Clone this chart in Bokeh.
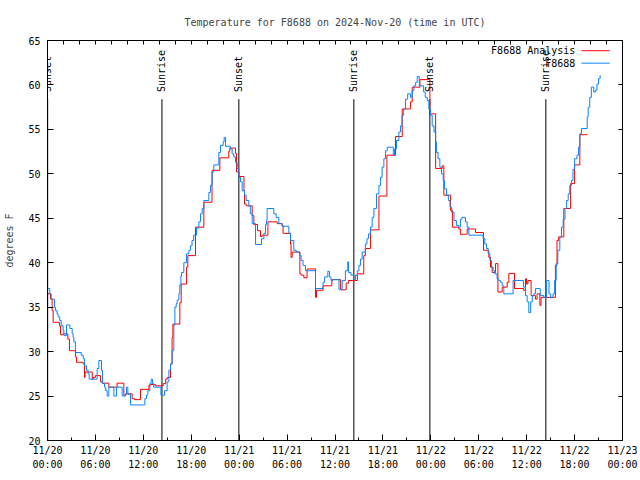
import math
from bokeh.plotting import figure
from bokeh.models import (Range1d, LinearAxis, FixedTicker, Label)
from bokeh.embed import file_html
from bokeh.resources import INLINE

# ---- data (hours after 2024-11-20 00:00 UTC, degrees F) ----
obs_hours = [0.0, 0.29, 0.46, 0.88, 1.0, 1.21, 1.34, 1.54, 1.71, 1.96, 2.05, 2.38, 2.8, 3.09, 3.21, 3.3,
             3.5, 4.22, 4.47, 4.63, 4.88, 5.09, 5.22, 6.22, 6.43, 6.76, 6.89, 7.14, 7.3, 7.47, 7.68, 8.31,
             8.64, 9.35, 9.77, 9.89, 10.06, 10.39, 12.19, 12.4, 12.56, 12.81, 12.98, 13.15, 13.3, 14.2,
             14.65, 14.98, 15.2, 15.4, 15.6, 15.82, 15.95, 16.11, 16.24, 16.45, 16.57, 16.7, 16.78, 17.07,
             17.4, 17.7, 17.9, 18.1, 18.3, 18.66, 18.95, 19.16, 19.37, 19.58, 20.2, 20.4, 20.62, 20.83,
             21.45, 21.66, 22.0, 22.12, 22.29, 22.9, 23.12, 23.33, 23.54, 23.75, 23.96, 24.17, 24.38,
             24.67, 24.88, 25.2, 25.4, 25.63, 26.05, 26.8, 27.09, 27.3, 27.42, 27.5, 28.34, 28.63, 28.97,
             29.38, 30.22, 30.43, 30.84, 31.14, 31.6, 31.76, 32.0, 32.3, 33.56, 34.5, 34.7, 35.1, 35.3,
             35.5, 35.73, 36.5, 36.9, 37.3, 37.6, 37.7, 38.0, 38.36, 38.57, 38.8, 39.0, 39.2, 39.4, 39.8,
             40.0, 40.2, 40.45, 40.66, 40.87, 41.2, 41.5, 41.7, 41.9, 42.12, 42.33, 42.54, 43.3, 43.46,
             43.7, 44.0, 44.2, 44.4, 44.6, 44.83, 45.1, 45.46, 45.67, 45.88, 46.1, 46.3, 46.55, 47.1,
             47.3, 47.55, 47.75, 47.96, 48.17, 48.4, 48.6, 48.7, 48.9, 49.13, 49.34, 49.55, 49.72, 49.97,
             50.2, 50.4, 50.6, 50.9, 51.2, 51.5, 51.7, 51.9, 52.34, 52.55, 52.76, 54.55, 54.76, 54.97,
             55.18, 55.4, 55.6, 55.8, 56.0, 56.3, 56.5, 56.7, 56.93, 57.14, 58.3, 59.6, 59.85, 60.06,
             60.27, 60.5, 60.7, 60.9, 61.1, 61.7, 62.15, 62.5, 62.8, 63.0, 63.3, 63.5, 63.7, 63.9, 64.15,
             64.36, 64.57, 64.8, 65.0, 65.2, 65.4, 65.6, 65.8, 66.0, 66.3, 66.5, 66.66, 66.87, 67.58,
             67.7, 67.9, 68.1, 68.4, 68.6, 68.8, 69.0, 69.2]
obs_temps = [37.1, 36.5, 35.9, 35.0, 34.6, 34.2, 33.9, 33.5, 32.9, 32.4, 31.8, 33.0, 32.6, 32.0, 31.6, 31.1,
             29.9, 29.6, 29.2, 28.4, 27.9, 27.5, 26.9, 28.1, 29.0, 27.9, 26.4, 26.0, 25.6, 25.0, 26.0, 25.0,
             26.0, 25.0, 25.2, 26.0, 25.2, 24.0, 24.7, 25.1, 25.6, 26.4, 26.9, 26.4, 26.0, 25.1,
             25.6, 26.6, 27.9, 28.6, 30.1, 33.0, 35.0, 35.4, 35.8, 36.5, 37.5, 38.5, 38.9, 40.0,
             41.0, 41.4, 41.9, 42.5, 43.1, 43.9, 44.6, 45.5, 46.1, 47.0, 47.9, 48.7, 50.2, 51.0,
             52.4, 53.2, 53.6, 54.1, 53.1, 52.8, 52.25, 51.9, 51.3, 50.6, 49.6, 49.1, 48.1,
             47.6, 47.0, 46.4, 45.5, 44.4, 42.05, 42.7, 43.3, 44.3, 44.75, 46.1, 45.5, 45.1, 44.4,
             44.1, 43.3, 42.5, 41.4, 41.2, 40.8, 40.25, 39.7, 39.1, 37.1, 37.8, 38.4, 39.05, 38.4,
             38.0, 38.1, 37.0, 38.0, 39.1, 40.1, 38.9, 38.6, 38.1, 38.6, 39.1, 39.7, 40.4, 41.2, 42.1,
             42.7, 43.25, 44.0, 45.1, 46.1, 47.75, 48.7, 49.6, 50.75, 51.7, 52.6, 53.0, 52.1, 52.8,
             53.75, 54.7, 55.4, 56.6, 57.3, 58.4, 59.0, 58.6, 59.4, 59.9, 60.3, 60.95, 59.9, 59.2,
             58.6, 58.25, 57.3, 56.6, 55.4, 54.7, 53.6, 52.4, 51.7, 50.75, 50.0, 49.25, 48.3, 47.6,
             47.0, 46.25, 45.7, 44.75, 44.2, 44.0, 44.9, 45.1, 44.6, 44.0, 43.1, 42.7, 42.1, 41.6,
             41.0, 40.25, 39.5, 39.1, 38.75, 38.2, 38.0, 37.8, 37.4, 36.5, 38.0, 37.25, 36.3, 35.6,
             34.4, 35.6, 36.3, 36.5, 37.1, 36.3, 36.1, 38.0, 36.5, 36.1, 36.5, 38.0, 39.9, 41.4, 42.9,
             44.0, 44.9, 46.1, 47.0, 47.75, 48.7, 49.25, 50.5, 51.7, 52.1, 53.0, 54.5, 55.1, 56.4,
             57.5, 58.6, 59.75, 59.2, 59.4, 60.1, 60.7, 61.1]

ana_hours = [0.0, 0.38, 0.58, 0.71, 1.5, 1.63, 1.96, 2.55, 2.75, 3.5, 3.63, 4.47, 4.63, 4.7, 5.6, 5.7,
             6.0, 6.64, 6.85, 7.68, 8.72, 9.56, 9.77, 10.6, 10.9, 11.65, 12.7, 12.9, 13.5, 14.48, 14.8,
             15.0, 15.4, 15.6, 15.7, 16.57, 16.74, 17.4, 17.57, 18.53, 19.58, 20.6, 21.58, 22.7, 22.83,
             23.54, 23.67, 23.96, 24.6, 24.67, 24.88, 25.63, 25.84, 26.3, 26.67, 26.88, 27.6, 28.76,
             29.38, 29.5, 30.43, 30.5, 30.64, 31.6, 31.76, 32.1, 32.5, 33.56, 33.68, 34.5, 35.6, 36.7,
             37.4, 37.7, 38.8, 39.6, 39.8, 40.45, 41.5, 42.5, 43.58, 44.42, 45.46, 45.67, 46.63, 47.88,
             48.6, 49.42, 49.63, 50.47, 50.7, 51.5, 51.7, 52.55, 53.6, 54.6, 55.26, 55.47, 55.68, 56.1,
             56.4, 56.93, 57.56, 57.77, 58.48, 59.6, 59.85, 59.98, 60.15, 60.56, 61.1, 61.3, 61.65,
             61.8, 63.6, 63.8, 64.0, 64.65, 65.5, 66.0, 66.66, 67.6]
ana_temps = [36.5, 35.9, 34.6, 33.3, 32.9, 31.9, 32.0, 31.4, 30.1, 29.4, 28.8, 28.6, 27.1, 27.7, 26.9, 27.1,
             27.3, 26.6, 26.45, 26.0, 26.45, 25.1, 25.25, 24.7, 24.6, 25.75, 26.2, 26.3, 26.15, 26.4, 26.9,
             27.1, 28.6, 31.6, 33.1, 35.5, 37.6, 39.5, 40.8, 44.0, 46.8, 50.4, 51.8, 52.55, 52.9,
             52.3, 50.2, 49.7, 48.1, 46.6, 46.4, 45.3, 44.3, 43.6, 42.95, 43.1, 44.6, 44.4,
             44.2, 43.3, 42.1, 40.6, 41.2, 38.75, 38.6, 38.3, 39.3, 36.1, 36.9, 37.4, 38.1, 36.95,
             37.7, 38.0, 38.75, 40.8, 41.6, 43.7, 47.5, 52.1, 54.2, 57.3, 58.1, 59.75, 60.6, 56.75,
             50.6, 50.9, 47.6, 45.9, 44.0, 43.8, 43.2, 43.8, 43.4, 41.4, 40.6, 39.5, 38.9, 39.9,
             36.7, 37.25, 37.8, 38.8, 37.1, 36.9, 38.2, 37.6, 38.0, 36.3, 35.9, 36.5, 35.2,
             36.1, 39.7, 42.5, 42.9, 46.1, 48.9, 51.0, 54.4, 54.4]

event_hours = [0.02, 14.33, 23.96, 38.36, 47.88, 62.4]
event_names = ["Sunset", "Sunrise", "Sunset", "Sunrise", "Sunset", "Sunrise"]

x_ticks = [0, 6, 12, 18, 24, 30, 36, 42, 48, 54, 60, 66, 72]
x_tick_labels = ["11/20\n00:00", "11/20\n06:00", "11/20\n12:00", "11/20\n18:00",
                 "11/21\n00:00", "11/21\n06:00", "11/21\n12:00", "11/21\n18:00",
                 "11/22\n00:00", "11/22\n06:00", "11/22\n12:00", "11/22\n18:00",
                 "11/23\n00:00"]
y_ticks = [20, 25, 30, 35, 40, 45, 50, 55, 60, 65]

series_names = ["F8688 Analysis", "F8688"]
series_colors = ["#ff0000", "#0a84ff"]

FONT = "DejaVu Sans Mono"
FS = "10px"
W, H = 640, 480
X0, X1, Y0, Y1 = 0, 72, 20, 65

p = figure(width=W, height=H, x_range=Range1d(X0, X1), y_range=Range1d(Y0, Y1),
           output_backend="svg", toolbar_location=None,
           min_border_left=47, min_border_right=18, min_border_top=40, min_border_bottom=40,
           title="Temperature for F8688 on 2024-Nov-20 (time in UTC)")
p.title.text_font = FONT
p.title.text_font_size = FS
p.title.text_font_style = "normal"
p.title.align = "center"
p.title.standoff = 26
p.xgrid.visible = False
p.ygrid.visible = False
p.outline_line_color = "black"
p.outline_line_width = 1

def style_axis(ax):
    ax.axis_line_color = "black"
    ax.major_tick_line_color = "black"
    ax.minor_tick_line_color = "black"
    ax.major_tick_out = 0
    ax.minor_tick_out = 0
    ax.major_label_text_font = FONT
    ax.major_label_text_font_size = FS
    ax.major_label_text_color = "black"

xa = p.xaxis[0]
xa.ticker = FixedTicker(ticks=x_ticks, minor_ticks=[t + 3 for t in x_ticks[:-1]])
xa.major_label_overrides = {t: lab for t, lab in zip(x_ticks, x_tick_labels)}
style_axis(xa)
xa.major_tick_in = 6
xa.minor_tick_in = 3
xa.major_label_standoff = 4
xa.major_label_text_line_height = 1.35

ya = p.yaxis[0]
ya.ticker = FixedTicker(ticks=y_ticks, minor_ticks=[])
style_axis(ya)
ya.major_tick_in = 6
ya.major_label_standoff = 7
ya.axis_label = "degrees F"
ya.axis_label_text_font = FONT
ya.axis_label_text_font_size = FS
ya.axis_label_text_font_style = "normal"
ya.axis_label_standoff = 10

# mirrored tick marks (no labels) on top and right
top = LinearAxis(ticker=FixedTicker(ticks=list(range(0, 73, 2)), minor_ticks=[]))
style_axis(top)
top.major_tick_in = 4
top.major_label_text_font_size = "1px"
top.major_label_text_color = None
top.major_label_standoff = 0
p.add_layout(top, "above")

right = LinearAxis(ticker=FixedTicker(ticks=y_ticks, minor_ticks=[]))
style_axis(right)
right.major_tick_in = 4
right.major_label_text_font_size = "1px"
right.major_label_text_color = None
right.major_label_standoff = 0
p.add_layout(right, "right")

# sunrise / sunset markers
p.segment(x0=event_hours, y0=[Y0] * len(event_hours), x1=event_hours,
          y1=[58.4] * len(event_hours), line_color="black", line_width=1)
for t, name in zip(event_hours, event_names):
    p.add_layout(Label(x=t, y=59.2, text=name, angle=math.pi / 2,
                       text_align="left", text_baseline="middle", level="overlay",
                       text_font=FONT, text_font_size=FS, text_color="black"))

# series
p.step(ana_hours, ana_temps, mode="after", line_color=series_colors[0], line_width=1)
p.step(obs_hours, obs_temps, mode="after", line_color=series_colors[1], line_width=1)

# gnuplot-style key (text right, sample line left->right)
key_y = [63.85, 62.45]
for name, col, ky in zip(series_names, series_colors, key_y):
    p.add_layout(Label(x=66.1, y=ky, text=name, text_align="right", text_baseline="middle",
                       text_font=FONT, text_font_size=FS, text_color="black"))
    p.segment(x0=[66.85], y0=[ky], x1=[70.4], y1=[ky], line_color=col, line_width=1)

open("out.html", "w").write(file_html(p, INLINE))
